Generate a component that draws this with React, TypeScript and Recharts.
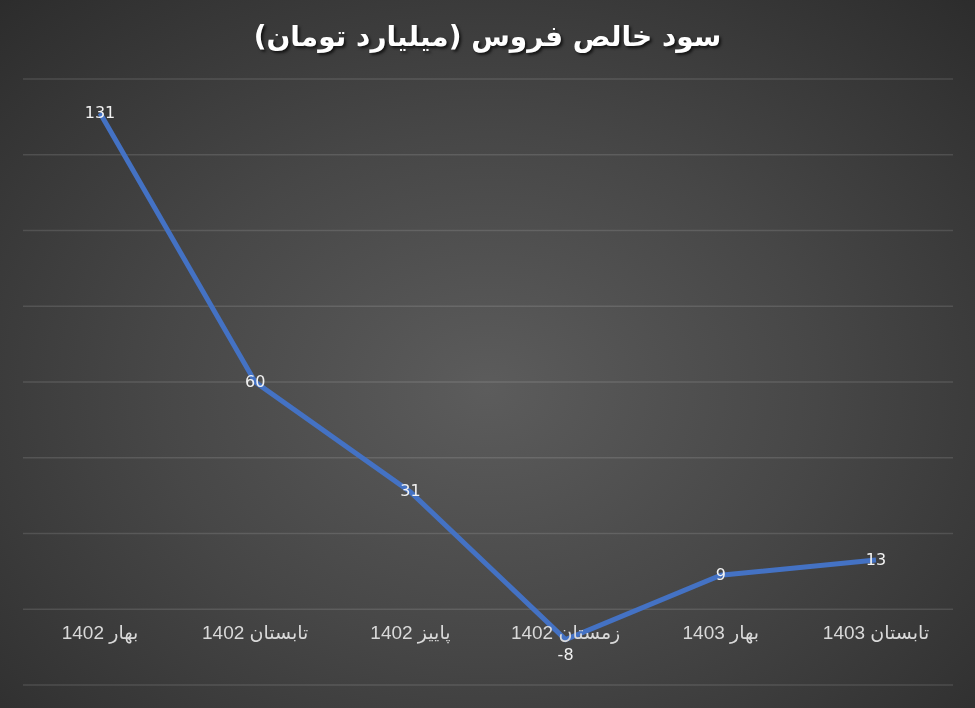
import { LineChart, Line, XAxis, YAxis, CartesianGrid, LabelList } from 'recharts';

const categories = ['بهار 1402', 'تابستان 1402', 'پاییز 1402', 'زمستان 1402', 'بهار 1403', 'تابستان 1403'];
const profit = [131, 60, 31, -8, 9, 13];
const yTicks = [-20, 0, 20, 40, 60, 80, 100, 120, 140];

const data = categories.map((name, i) => ({ name, profit: profit[i] }));

const CategoryTick = (props: any) => {
  const { x, y, payload } = props;
  return (
    <text
      x={x}
      y={y - 54}
      textAnchor="middle"
      fill="#d9d9d9"
      fontSize={19}
      fontFamily="'Liberation Sans', 'DejaVu Sans', sans-serif"
    >
      {payload.value}
    </text>
  );
};

const ValueLabel = (props: any) => {
  const { x, y, value } = props;
  const dy = value < 0 ? 15 : -1;
  return (
    <text
      x={x}
      y={y + dy}
      textAnchor="middle"
      dominantBaseline="central"
      fill="#f2f2f2"
      fontSize={16}
      fontFamily="'DejaVu Sans', sans-serif"
    >
      {value}
    </text>
  );
};

export default function App() {
  return (
    <div
      style={{
        position: 'fixed',
        left: 0,
        top: 0,
        width: 975,
        height: 708,
        background: 'radial-gradient(ellipse 75% 80% at 50% 55%, #5c5c5c 0%, #474747 45%, #2a2a2a 100%)',
      }}
    >
      <div
        style={{
          position: 'absolute',
          top: 20,
          left: 0,
          width: 975,
          textAlign: 'center',
          color: '#ffffff',
          fontWeight: 'bold',
          fontSize: 28,
          fontFamily: "'DejaVu Sans', sans-serif",
          textShadow: '2px 2px 3px rgba(0,0,0,0.7)',
          direction: 'rtl',
        }}
      >
        سود خالص فروس (میلیارد تومان)
      </div>
      <LineChart width={975} height={708} data={data} margin={{ top: 79, right: 22, bottom: 22, left: 23 }}>
        <CartesianGrid vertical={false} stroke="rgba(255,255,255,0.12)" strokeWidth={1.5} />
        <XAxis
          dataKey="name"
          height={1}
          axisLine={false}
          tickLine={false}
          tick={<CategoryTick />}
          interval={0}
          padding={{ left: 77, right: 77 }}
        />
        <YAxis hide domain={[-20, 140]} ticks={yTicks} width={0} />
        <Line
          type="linear"
          dataKey="profit"
          stroke="#4472C4"
          strokeWidth={5}
          dot={false}
          isAnimationActive={false}
        >
          <LabelList dataKey="profit" content={<ValueLabel />} />
        </Line>
      </LineChart>
    </div>
  );
}
